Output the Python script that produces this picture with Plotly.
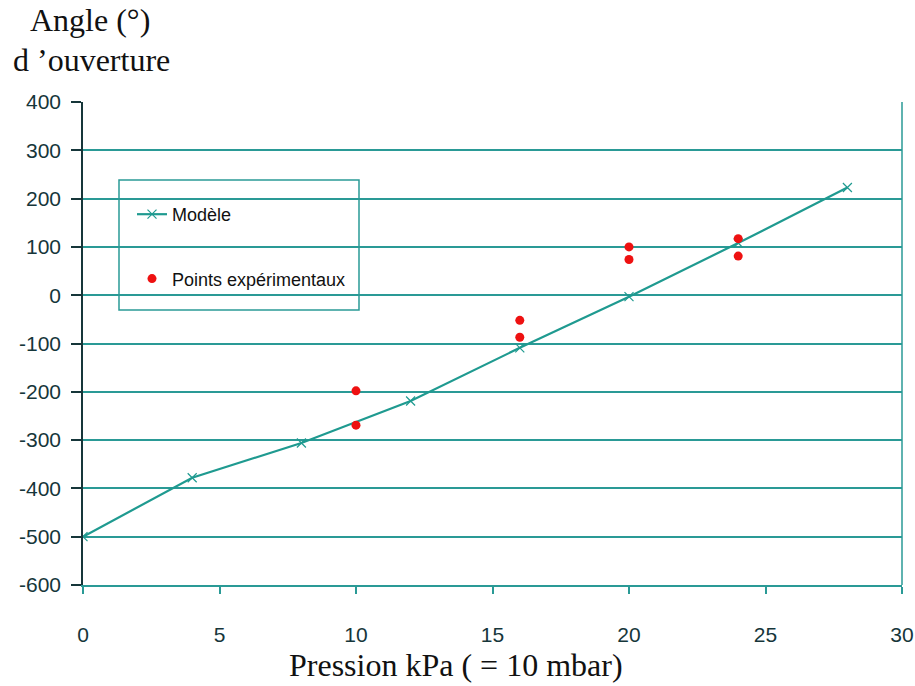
import plotly.graph_objects as go

# Data
model_x = [0, 4, 8, 12, 16, 20, 24, 28]
model_y = [-500, -378, -306, -219, -109, -3, 108, 223]
exp_x = [10, 10, 16, 16, 20, 20, 24, 24]
exp_y = [-198, -269, -52, -87, 100, 74, 117, 81]

x_ticks = [0, 5, 10, 15, 20, 25, 30]
y_ticks = [400, 300, 200, 100, 0, -100, -200, -300, -400, -500, -600]

teal = "#1f9a90"
grid = "#2a9a96"
txt = "#16363a"
serif = "Liberation Serif, Times New Roman, serif"

fig = go.Figure()
fig.add_trace(go.Scatter(
    x=model_x, y=model_y, mode="lines+markers", name="Modèle",
    line=dict(color=teal, width=2.2),
    marker=dict(symbol="x-thin", size=9, line=dict(color=teal, width=1.2)),
    legendgroup="a",
))
fig.add_trace(go.Scatter(
    x=exp_x, y=exp_y, mode="markers", name="Points expérimentaux",
    marker=dict(symbol="circle", size=9, color="#ee1111"),
    legendgroup="b",
))

L, R, T, B = 83, 13, 102, 101
PW, PH = 915 - L - R, 686 - T - B

fig.update_layout(
    width=915, height=686,
    margin=dict(l=L, r=R, t=T, b=B, autoexpand=False),
    paper_bgcolor="white", plot_bgcolor="white",
    font=dict(family="Arial, Liberation Sans, sans-serif", color=txt),
    showlegend=True,
    legend=dict(
        x=(132 - L) / PW, y=(585 - 196) / PH, xanchor="left", yanchor="top",
        bgcolor="rgba(0,0,0,0)", borderwidth=0,
        font=dict(size=18, color="#111", family="Arial, Liberation Sans, sans-serif"),
        tracegroupgap=38, traceorder="grouped", itemwidth=30,
    ),
    xaxis=dict(
        range=[0, 30], tickvals=x_ticks, ticktext=[str(v) for v in x_ticks],
        showgrid=False, zeroline=False, automargin=False,
        showline=True, linecolor=grid, linewidth=1.5, mirror=False,
        ticks="outside", ticklen=7, tickcolor=grid, tickwidth=1.5,
        tickfont=dict(size=21, color=txt), ticklabelstandoff=23,
    ),
    yaxis=dict(
        range=[-600, 400], tickvals=y_ticks, ticktext=[str(v) for v in y_ticks],
        showgrid=True, gridcolor=grid, gridwidth=1.5,
        zeroline=False, automargin=False,
        showline=True, linecolor=txt, linewidth=1.5,
        ticks="outside", ticklen=10, tickcolor=txt, tickwidth=1.5,
        tickfont=dict(size=21, color=txt), ticklabelstandoff=6,
    ),
    shapes=[
        dict(type="line", xref="paper", yref="paper", x0=1, x1=1, y0=0, y1=1,
             line=dict(color=grid, width=1.5)),
        dict(type="rect", xref="paper", yref="paper",
             x0=(119 - L) / PW, x1=(359 - L) / PW,
             y0=(585 - 310) / PH, y1=(585 - 180) / PH,
             line=dict(color=grid, width=1.5), fillcolor="white", layer="below"),
    ],
    annotations=[
        dict(text="Angle (°)", xref="paper", yref="paper",
             x=(90 - L) / PW, y=(585 - 20) / PH, xanchor="center", yanchor="middle",
             showarrow=False, font=dict(family=serif, size=32, color="#111")),
        dict(text="d ’ouverture", xref="paper", yref="paper",
             x=(91 - L) / PW, y=(585 - 60) / PH, xanchor="center", yanchor="middle",
             showarrow=False, font=dict(family=serif, size=32, color="#111")),
        dict(text="Pression kPa ( = 10 mbar)", xref="paper", yref="paper",
             x=(456 - L) / PW, y=-(665 - 585) / PH, xanchor="center", yanchor="middle",
             showarrow=False, font=dict(family=serif, size=32, color="#111")),
    ],
)

fig.write_html("out.html", config={"displayModeBar": False},
               post_script="document.body.style.margin='0';")
